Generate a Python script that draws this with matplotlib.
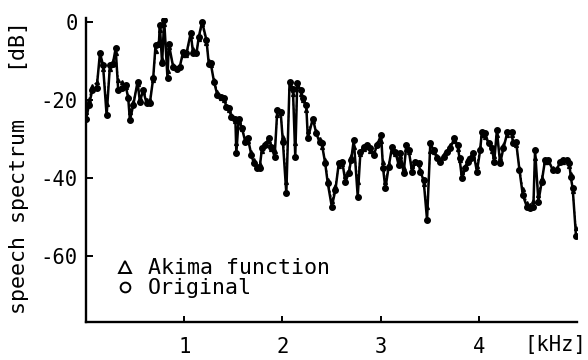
import matplotlib
matplotlib.use("Agg")
import matplotlib.pyplot as plt
from matplotlib.lines import Line2D

# ---- data ----
freq_khz = [0.00, 0.03, 0.064, 0.109, 0.142, 0.173, 0.21, 0.244, 0.274, 0.302,
            0.328, 0.363, 0.403, 0.43, 0.447, 0.481, 0.525, 0.549, 0.582, 0.617,
            0.65, 0.684, 0.708, 0.742, 0.752, 0.775, 0.796, 0.83, 0.843, 0.887,
            0.922, 0.955, 0.989, 1.023, 1.067, 1.09, 1.125, 1.148, 1.182, 1.227,
            1.25, 1.27, 1.304, 1.338, 1.372, 1.405, 1.43, 1.453, 1.481, 1.521,
            1.531, 1.555, 1.588, 1.623, 1.649, 1.684, 1.71, 1.745, 1.768, 1.792,
            1.826, 1.86, 1.887, 1.921, 1.948, 1.982, 2.005, 2.04, 2.073, 2.107,
            2.131, 2.151, 2.185, 2.208, 2.243, 2.259, 2.31, 2.345, 2.378, 2.401,
            2.436, 2.462, 2.503, 2.54, 2.574, 2.609, 2.642, 2.676, 2.70, 2.727,
            2.767, 2.795, 2.828, 2.863, 2.896, 2.93, 2.964, 3.005, 3.025, 3.049,
            3.082, 3.117, 3.15, 3.184, 3.201, 3.235, 3.262, 3.286, 3.32, 3.354,
            3.387, 3.404, 3.438, 3.473, 3.506, 3.54, 3.574, 3.608, 3.641, 3.676,
            3.709, 3.75, 3.784, 3.804, 3.828, 3.862, 3.895, 3.92, 3.946, 3.981,
            4.014, 4.031, 4.065, 4.099, 4.133, 4.157, 4.184, 4.217, 4.251, 4.292,
            4.336, 4.347, 4.38, 4.414, 4.448, 4.489, 4.522, 4.556, 4.573, 4.607,
            4.641, 4.675, 4.708, 4.753, 4.794, 4.827, 4.861, 4.895, 4.922, 4.936,
            4.956, 4.99]

original_db = [-25.0, -21.4, -17.5, -17.0, -8.0, -11.0, -24.0, -11.0, -10.7, -6.8,
               -17.5, -17.0, -16.2, -19.6, -25.2, -21.4, -15.4, -20.5, -17.5, -20.9,
               -20.9, -14.5, -6.0, -5.6, -0.9, -10.6, 0.4, -14.5, -5.6, -11.5,
               -12.0, -11.5, -7.7, -8.1, -2.8, -8.1, -8.1, -3.9, 0.0, -4.7,
               -10.7, -10.6, -15.4, -18.8, -19.2, -19.6, -21.8, -22.2, -24.3, -24.8,
               -33.7, -24.8, -27.3, -30.8, -29.9, -34.2, -36.3, -37.6, -37.6, -32.4,
               -31.6, -29.9, -32.0, -34.6, -22.6, -23.0, -30.8, -44.0, -15.4, -17.1,
               -34.6, -15.8, -17.5, -19.6, -21.4, -29.9, -24.8, -28.6, -30.8, -31.2,
               -36.3, -41.4, -47.4, -43.1, -36.3, -35.9, -41.0, -38.8, -35.4, -30.3,
               -44.8, -33.3, -32.0, -31.6, -32.4, -34.2, -31.6, -29.0, -37.6, -42.7,
               -37.2, -32.0, -33.3, -36.7, -33.7, -38.8, -31.6, -32.9, -38.4, -35.9,
               -36.3, -38.4, -40.6, -50.8, -31.2, -32.9, -35.0, -35.9, -34.6, -33.3,
               -32.4, -29.9, -31.6, -35.0, -40.1, -37.6, -35.9, -35.0, -33.7, -38.4,
               -32.9, -28.2, -28.6, -31.2, -32.4, -35.9, -27.8, -36.3, -32.4, -28.2,
               -28.2, -31.2, -30.8, -38.0, -44.4, -47.4, -47.8, -47.4, -32.9, -46.1,
               -41.0, -35.4, -35.4, -38.0, -38.0, -35.9, -35.4, -35.4, -36.3, -39.7,
               -42.7, -55.0]

akima_db = [-23.0, -20.0, -16.5, -15.5, -9.5, -12.0, -21.0, -12.0, -10.0, -8.0,
            -15.0, -15.5, -16.8, -19.0, -23.0, -20.5, -16.0, -19.5, -18.0, -20.0,
            -20.0, -15.0, -7.5, -5.0, -2.0, -9.5, -0.5, -12.5, -6.5, -11.0,
            -12.0, -11.5, -8.5, -8.5, -3.5, -7.0, -7.5, -4.5, -0.5, -5.5,
            -10.0, -11.0, -15.0, -18.0, -19.5, -20.0, -21.5, -22.5, -24.0, -25.5,
            -31.0, -25.5, -27.5, -30.0, -30.5, -33.5, -35.5, -37.0, -36.5, -33.0,
            -31.0, -30.5, -32.5, -33.0, -24.0, -23.5, -29.5, -41.0, -17.0, -18.5,
            -31.0, -16.5, -18.5, -20.0, -22.5, -28.0, -25.5, -28.0, -30.0, -32.0,
            -35.5, -40.5, -46.0, -42.0, -37.0, -36.5, -39.5, -38.0, -34.5, -32.0,
            -41.0, -34.0, -32.5, -32.0, -33.0, -33.5, -31.0, -30.5, -36.0, -41.0,
            -36.5, -33.0, -34.0, -35.5, -34.5, -37.5, -32.5, -33.5, -37.0, -36.0,
            -36.5, -38.0, -41.5, -47.5, -33.0, -33.5, -34.5, -35.5, -34.0, -33.0,
            -31.5, -30.5, -32.5, -35.5, -38.5, -37.0, -35.0, -34.5, -34.5, -37.0,
            -32.0, -29.0, -29.5, -31.0, -33.0, -34.5, -29.0, -35.0, -31.5, -29.0,
            -29.0, -30.5, -31.5, -37.5, -43.0, -46.5, -47.0, -46.0, -35.0, -44.5,
            -40.0, -36.0, -36.0, -37.5, -37.5, -36.0, -36.0, -35.5, -37.0, -39.0,
            -43.5, -53.0]

y_ticks = [0, -20, -40, -60]
y_tick_labels = ["0", "-20", "-40", "-60"]
x_ticks = [1, 2, 3, 4]
x_tick_labels = ["1", "2", "3", "4"]

FONT = "DejaVu Sans Mono"
FS = 14.8
FS_BIG = 15.6

fig = plt.figure(figsize=(5.88, 3.60), dpi=100)
ax = fig.add_axes([86 / 588, 1 - 322 / 360, (577 - 86) / 588, (322 - 18) / 360])

ax.plot(freq_khz, akima_db, color="black", lw=1.0, ls=(0, (1.5, 1.5)),
        marker="^", ms=2.8, mfc="black", mec="black", zorder=2)
ax.plot(freq_khz, original_db, color="black", lw=1.8, ls="-",
        marker="o", ms=4.0, mfc="black", mec="black", zorder=3)

ax.set_xlim(0, 5.0)
ax.set_ylim(-77, 1)

ax.spines["top"].set_visible(False)
ax.spines["right"].set_visible(False)
for s in ("left", "bottom"):
    ax.spines[s].set_linewidth(1.7)

ax.set_yticks(y_ticks)
ax.set_yticklabels(y_tick_labels, fontfamily=FONT, fontsize=FS)
ax.set_xticks(x_ticks)
ax.set_xticklabels(x_tick_labels, fontfamily=FONT, fontsize=FS)
ax.tick_params(axis="y", direction="in", length=5, width=1.4, pad=6)
ax.tick_params(axis="x", direction="in", length=4, width=1.4, pad=11)

fig.text(555 / 588, 1 - 345 / 360, "[kHz]", ha="center", va="center",
         fontfamily=FONT, fontsize=FS)
fig.text(19 / 588, 1 - 217 / 360, "speech spectrum", rotation=90,
         ha="center", va="center", fontfamily=FONT, fontsize=FS_BIG)
fig.text(14 / 588, 1 - 42 / 360, "[dB]", rotation=90,
         ha="center", va="center", fontfamily=FONT, fontsize=FS_BIG)

handles = [Line2D([], [], ls="none", marker="^", ms=8, mfc="white", mec="black", mew=1.4),
           Line2D([], [], ls="none", marker="o", ms=7, mfc="white", mec="black", mew=1.4)]
leg = ax.legend(handles, ["Akima function", "Original"], loc="lower left",
                bbox_to_anchor=(0.045, 0.05), frameon=False, handlelength=0.8,
                handletextpad=0.65, labelspacing=0.0, borderaxespad=0,
                prop={"family": FONT, "size": FS_BIG})

fig.savefig("out.png", dpi=100)
